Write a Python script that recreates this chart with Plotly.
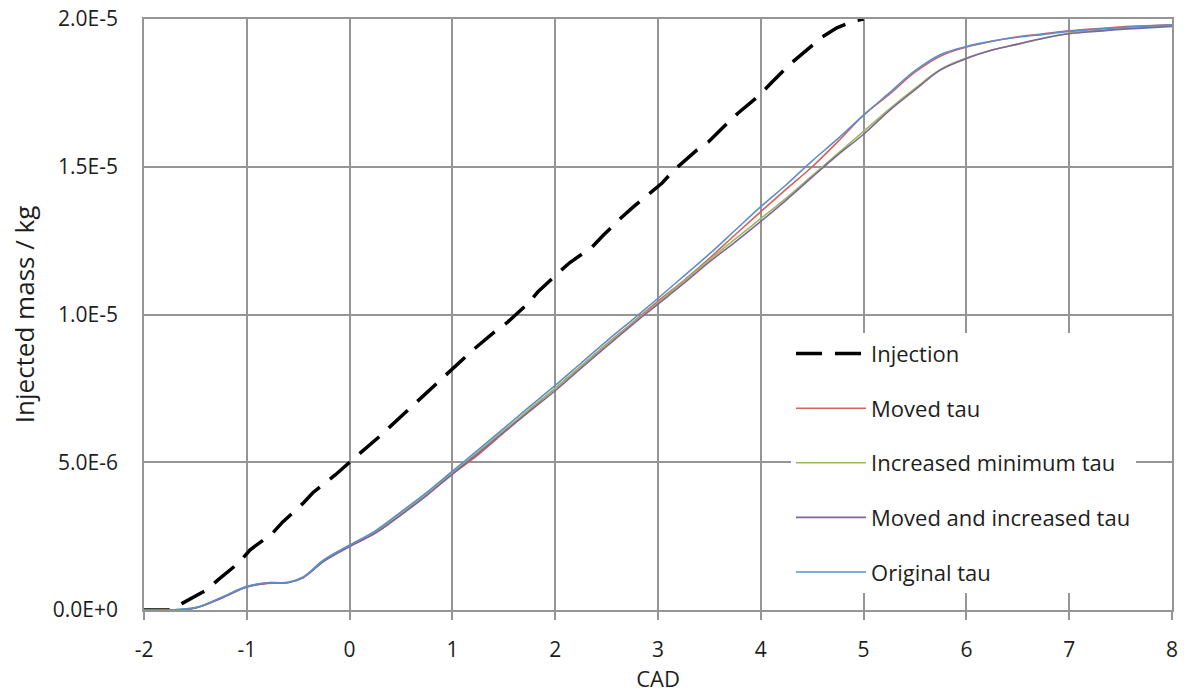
import numpy as np
import plotly.graph_objects as go

# Crank angle grid (CAD) shared by the simulated curves
cad = [-2.0, -1.75, -1.5, -1.25, -1.0, -0.8, -0.6, -0.45, -0.25, 0.0, 0.25, 0.5, 0.75,
       1.0, 1.25, 1.5, 1.75, 2.0, 2.25, 2.5, 2.75, 3.0, 3.25, 3.5, 3.75, 4.0, 4.25,
       4.5, 4.75, 5.0, 5.25, 5.5, 5.75, 6.0, 6.25, 6.5, 6.75, 7.0, 7.25, 7.5, 7.75, 8.0]

# Simulated injected mass, in units of 1e-6 kg
moved_tau = [0, 0, 0.07, 0.40, 0.78, 0.90, 0.92, 1.10, 1.66, 2.15, 2.60, 3.22, 3.88,
             4.60, 5.25, 6.00, 6.75, 7.50, 8.25, 9.00, 9.72, 10.45, 11.15, 11.90, 12.70, 13.48, 14.25,
             15.00, 15.85, 16.75, 17.45, 18.20, 18.75, 19.05, 19.25, 19.40, 19.50, 19.60, 19.67, 19.73, 19.77, 19.80]
increased_min_tau = [0, 0, 0.08, 0.41, 0.79, 0.92, 0.94, 1.12, 1.68, 2.18, 2.64, 3.27, 3.93,
                     4.65, 5.35, 6.08, 6.80, 7.50, 8.25, 8.98, 9.70, 10.40, 11.12, 11.85, 12.55, 13.25, 13.95,
                     14.70, 15.45, 16.20, 16.95, 17.65, 18.30, 18.68, 18.95, 19.15, 19.35, 19.52, 19.60, 19.67, 19.72, 19.77]
moved_increased_tau = [0, 0, 0.07, 0.40, 0.78, 0.91, 0.93, 1.10, 1.65, 2.15, 2.60, 3.22, 3.88,
                       4.60, 5.30, 6.02, 6.72, 7.42, 8.18, 8.92, 9.65, 10.35, 11.05, 11.78, 12.45, 13.15, 13.88,
                       14.65, 15.40, 16.10, 16.90, 17.60, 18.28, 18.66, 18.95, 19.15, 19.35, 19.50, 19.58, 19.65, 19.70, 19.75]
original_tau = [0, 0, 0.08, 0.42, 0.80, 0.92, 0.93, 1.12, 1.70, 2.20, 2.68, 3.32, 3.98,
                4.70, 5.42, 6.15, 6.88, 7.60, 8.35, 9.10, 9.82, 10.55, 11.30, 12.05, 12.85, 13.65, 14.40,
                15.20, 15.95, 16.75, 17.50, 18.25, 18.80, 19.07, 19.25, 19.38, 19.48, 19.58, 19.65, 19.71, 19.76, 19.80]

# Injection profile (imposed), in units of 1e-6 kg
inj_cad = [-2.0, -1.75, -1.62, -1.39, -1.28, -1.07, -0.97, -0.75, -0.65, -0.45, -0.36, -0.14,
           0.0, 0.18, 0.3, 0.5, 0.7, 0.9, 1.1, 1.2, 1.41, 1.54, 1.74, 1.83, 2.03, 2.14, 2.36,
           2.47, 2.65, 2.76, 3.04, 3.16, 3.38, 3.49, 3.68, 3.78, 3.99, 4.11, 4.3, 4.41, 4.6,
           4.74, 4.9, 5.0]
inj_mass = [0, 0, 0.24, 0.68, 1.02, 1.62, 2.03, 2.60, 2.98, 3.62, 3.96, 4.57,
            5.00, 5.52, 5.90, 6.55, 7.20, 7.85, 8.46, 8.80, 9.41, 9.75, 10.39, 10.76, 11.41, 11.75, 12.29,
            12.69, 13.30, 13.64, 14.45, 14.90, 15.57, 15.84, 16.49, 16.82, 17.43, 17.87, 18.52, 18.85, 19.40,
            19.70, 19.93, 20.00]

x_ticks = [-2, -1, 0, 1, 2, 3, 4, 5, 6, 7, 8]
x_tick_labels = ["-2", "-1", "0", "1", "2", "3", "4", "5", "6", "7", "8"]
y_ticks = [0, 5e-6, 1e-5, 1.5e-5, 2e-5]
y_tick_labels = ["0.0E+0", "5.0E-6", "1.0E-5", "1.5E-5", "2.0E-5"]

scale = 1e-6
FONT = "Open Sans"
TEXT = "#1e1e1e"
GRID = "#959595"

fig = go.Figure()
fig.add_trace(go.Scatter(x=inj_cad, y=np.array(inj_mass) * scale, name="Injection",
                         mode="lines", legendgroup="a",
                         line=dict(color="black", width=3.5, dash="26px,13px")))
series = [
    ("Moved tau", moved_tau, "#D9605B", "b"),
    ("Increased minimum tau", increased_min_tau, "#9BBB59", "c"),
    ("Moved and increased tau", moved_increased_tau, "#8064A2", "d"),
    ("Original tau", original_tau, "#5B8FCC", "e"),
]
for name, vals, color, grp in series:
    fig.add_trace(go.Scatter(x=cad, y=np.array(vals) * scale, name=name, mode="lines",
                             legendgroup=grp,
                             line=dict(color=color, width=1.6, shape="spline", smoothing=1.0)))

fig.update_layout(
    width=1184, height=694, autosize=False,
    margin=dict(l=144, r=12, t=19, b=84),
    paper_bgcolor="white", plot_bgcolor="white",
    font=dict(family=FONT, size=21, color=TEXT),
    showlegend=True,
    legend=dict(x=0.6294, y=0.469, xanchor="left", yanchor="top",
                bgcolor="white", borderwidth=0, itemwidth=70,
                tracegroupgap=23, font=dict(family=FONT, size=22, color=TEXT)),
    xaxis=dict(range=[-2, 8], tickvals=x_ticks, ticktext=x_tick_labels, automargin=False,
               showgrid=True, gridcolor=GRID, gridwidth=1.6,
               showline=True, linecolor=GRID, linewidth=1.6, mirror=True, zeroline=False,
               ticks="outside", ticklen=8, tickcolor=GRID, tickwidth=1.6,
               ticklabelstandoff=12,
               title=dict(text="CAD", standoff=6, font=dict(size=22))),
    yaxis=dict(range=[0, 2e-5], tickvals=y_ticks, ticktext=y_tick_labels, automargin=False,
               showgrid=True, gridcolor=GRID, gridwidth=1.6, showline=True, linecolor=GRID,
               linewidth=1.6, mirror=True, zeroline=False, ticks="", ticklabelstandoff=20,
               title=dict(text="Injected mass / kg", standoff=11, font=dict(size=26))),
)

fig.write_html("out.html")
